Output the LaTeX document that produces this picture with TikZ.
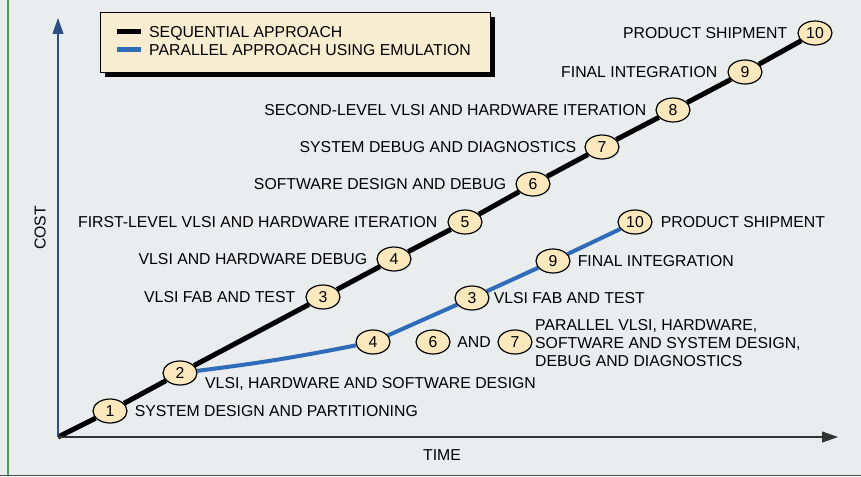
\documentclass[tikz,border=0pt]{standalone}
\usepackage{fontspec}
\setmainfont{Liberation Sans}
\usetikzlibrary{shapes.geometric,shadows,arrows.meta,calc}
\definecolor{bgc}{HTML}{E9EDEE}
\definecolor{legfill}{HTML}{F8EDD0}
\definecolor{circ}{HTML}{FBE8BD}
\definecolor{bluec}{HTML}{2E6BB8}
\definecolor{yaxis}{HTML}{2C4F86}
\definecolor{greenl}{HTML}{4A9A5A}
\pgfdeclarelayer{bg}
\pgfdeclarelayer{lines}
\pgfsetlayers{bg,lines,main}
\begin{document}
\begin{tikzpicture}[x=1pt,y=-1pt,
  font=\fontsize{15.8}{18}\selectfont,
  stage/.style={ellipse,draw=black,line width=1.2pt,fill=circ,minimum width=34pt,minimum height=24pt,inner sep=0pt},
  lbl/.style={inner sep=0pt,text height=11.3pt,text depth=0pt},
  seqline/.style={line width=5pt,black},
  parline/.style={line width=4pt,bluec},
  legendbox/.style={rectangle,draw=black,line width=0.8pt,fill=legfill,minimum width=390pt,minimum height=60pt,inner sep=0pt,
    drop shadow={shadow xshift=5pt,shadow yshift=-5pt,fill=black,opacity=1}},
  axistip/.style={-{Triangle[length=16pt,width=11pt]}}]
\useasboundingbox (0,0) rectangle (861,476);
\begin{pgfonlayer}{bg}
\fill[bgc] (0,0) rectangle (861,476);
\draw[greenl,line width=1.2pt] (8,0) -- (8,476);
\draw[black!70,line width=1pt] (0,475.5) -- (861,475.5);
\end{pgfonlayer}

% axes
\coordinate (O) at (58,437);
\coordinate (ytop) at (58,18);
\coordinate (xend) at (838,437);
\draw[yaxis,line width=1.1pt,axistip] (O) -- (ytop);
\draw[black!80,line width=1.1pt,axistip] (O) -- (xend);
\node[lbl,rotate=90] (cost) at (40,228) {COST};
\node[lbl] (time) at (442,455) {TIME};

% legend
\node[legendbox] (leg) at (295,42) {};
\coordinate (l1a) at (117,32); \coordinate (l1b) at (141,32);
\coordinate (l2a) at (117,50); \coordinate (l2b) at (141,50);
\draw[seqline] (l1a) -- (l1b);
\draw[parline,line width=5pt] (l2a) -- (l2b);
\node[lbl,anchor=west] (lt1) at (149,32) {SEQUENTIAL APPROACH};
\node[lbl,anchor=west] (lt2) at (149,50) {PARALLEL APPROACH USING EMULATION};

% sequential stages
\node[stage] (s1) at (110,411) {1};
\node[stage] (s2) at (180,373) {2};
\node[stage] (s3) at (323,297) {3};
\node[stage] (s4) at (394,259) {4};
\node[stage] (s5) at (465,222) {5};
\node[stage] (s6) at (533,184) {6};
\node[stage] (s7) at (602,147) {7};
\node[stage] (s8) at (673,110) {8};
\node[stage] (s9) at (745,72) {9};
\node[stage] (s10) at (815,33) {10};

% parallel stages
\node[stage] (p4) at (373,342) {4};
\node[stage] (p3) at (472,298) {3};
\node[stage] (p9) at (553,261) {9};
\node[stage] (p10) at (635,222) {10};
\node[stage] (p6) at (433,342) {6};
\node[stage] (p7) at (515,342) {7};

\begin{pgfonlayer}{lines}
\draw[seqline] (O) -- (s1) -- (s2) -- (s3) -- (s4) -- (s5) -- (s6) -- (s7) -- (s8) -- (s9) -- (s10);
\draw[parline] (s2) to[bend right=2] (p4);
\draw[parline] (p4) -- (p3) -- (p9) -- (p10);
\end{pgfonlayer}

% sequential labels
\node[lbl,anchor=east] (t10) at ([xshift=-10pt]s10.west) {PRODUCT SHIPMENT};
\node[lbl,anchor=east] (t9) at ([xshift=-10pt]s9.west) {FINAL INTEGRATION};
\node[lbl,anchor=east] (t8) at ([xshift=-9pt]s8.west) {SECOND-LEVEL VLSI AND HARDWARE ITERATION};
\node[lbl,anchor=east] (t7) at ([xshift=-8pt]s7.west) {SYSTEM DEBUG AND DIAGNOSTICS};
\node[lbl,anchor=east] (t6) at ([xshift=-9pt]s6.west) {SOFTWARE DESIGN AND DEBUG};
\node[lbl,anchor=east] (t5) at ([xshift=-10pt]s5.west) {FIRST-LEVEL VLSI AND HARDWARE ITERATION};
\node[lbl,anchor=east] (t4) at ([xshift=-9pt]s4.west) {VLSI AND HARDWARE DEBUG};
\node[lbl,anchor=east] (t3) at ([xshift=-10pt]s3.west) {VLSI FAB AND TEST};
\node[lbl,anchor=west] (t1) at ([xshift=7pt]s1.east) {SYSTEM DESIGN AND PARTITIONING};
\node[lbl,anchor=west] (t2) at (205,383) {VLSI, HARDWARE AND SOFTWARE DESIGN};

% parallel labels
\node[lbl,anchor=west] (u10) at ([xshift=8pt]p10.east) {PRODUCT SHIPMENT};
\node[lbl,anchor=west] (u9) at ([xshift=7pt]p9.east) {FINAL INTEGRATION};
\node[lbl,anchor=west] (u3) at ([xshift=4pt]p3.east) {VLSI FAB AND TEST};
\node[lbl] (uand) at ($(p6)!0.5!(p7)$) {AND};
\node[inner sep=0pt,align=left,anchor=west] (u67) at (535,343) {PARALLEL VLSI, HARDWARE,\\SOFTWARE AND SYSTEM DESIGN,\\DEBUG AND DIAGNOSTICS};
\end{tikzpicture}
\end{document}
